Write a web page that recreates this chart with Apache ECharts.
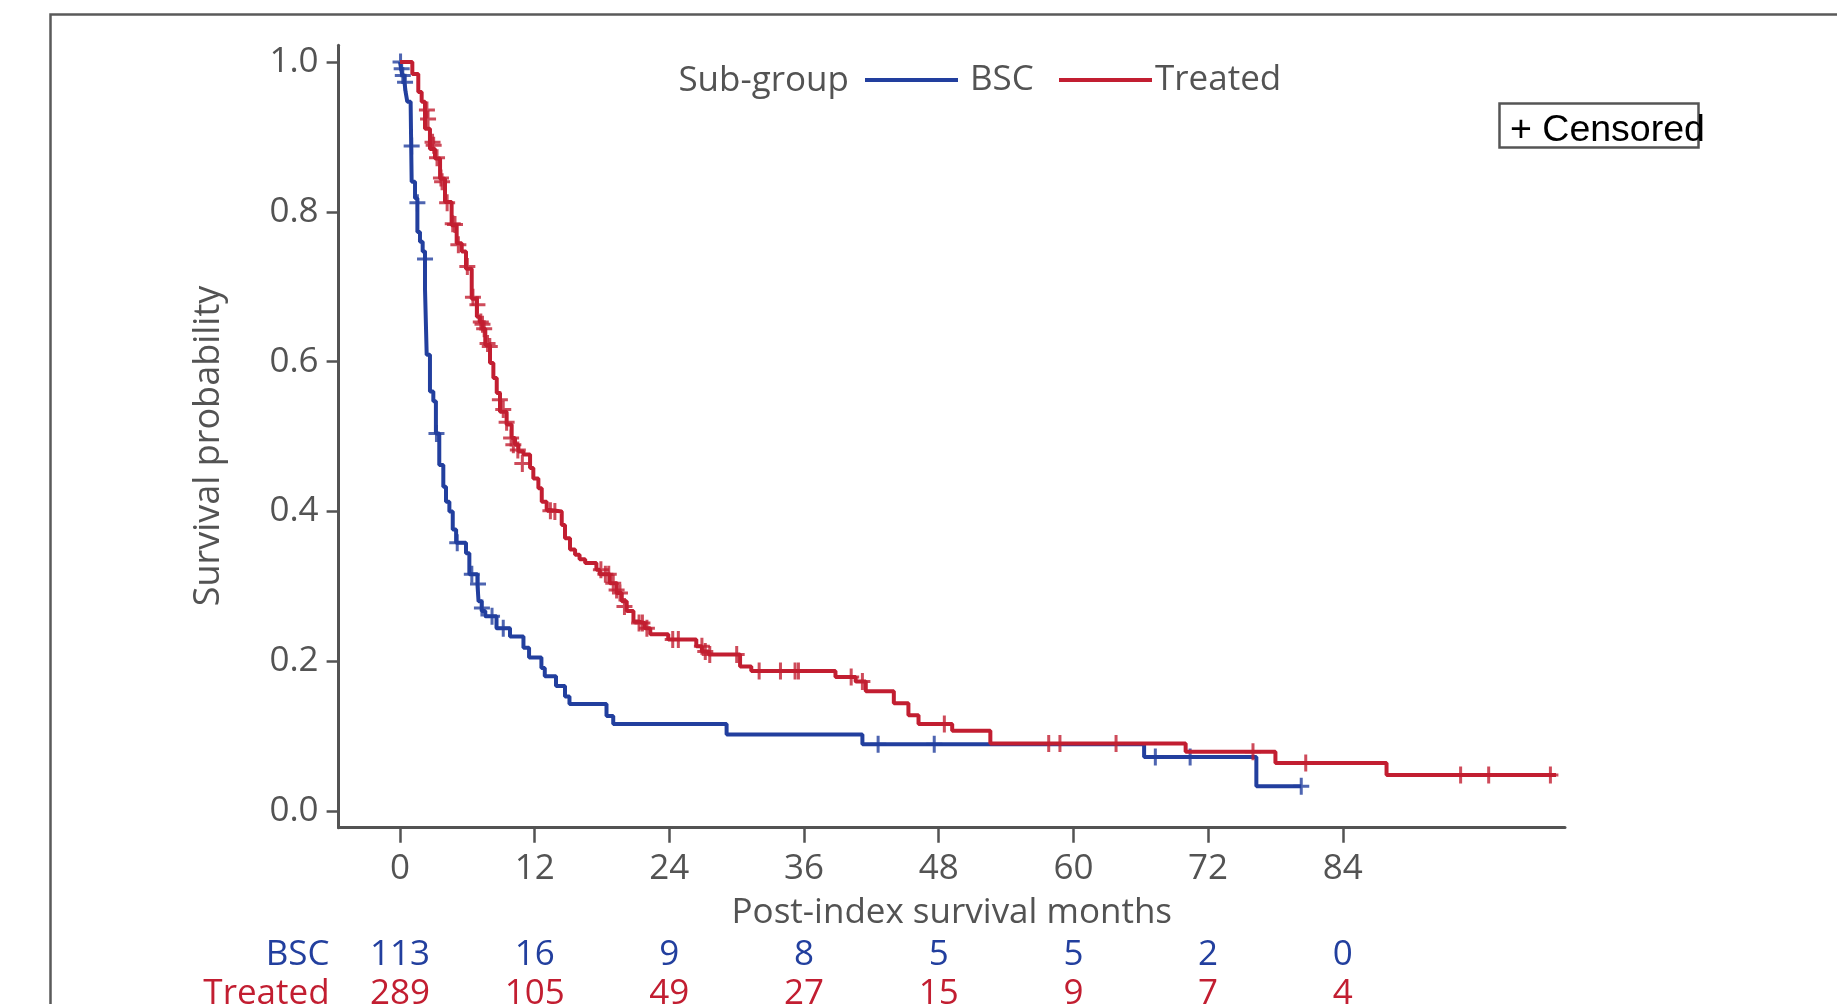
<!DOCTYPE html>
<html><head><meta charset="utf-8">
<script src="https://cdn.jsdelivr.net/npm/echarts@6/dist/echarts.min.js"></script>
<style>html,body{margin:0;padding:0;background:#fff;overflow:hidden}#c{width:1837px;height:1004px}</style>
</head><body><div id="c"></div>
<script>
// ---- data ----
const bscSteps = [[0,1.0],[0.1,0.991],[0.2,0.982],[0.4,0.973],[0.5,0.96],[0.65,0.947],[0.95,0.943],[1.04,0.84],[1.34,0.818],[1.55,0.773],[1.78,0.76],[2.02,0.747],[2.23,0.696],[2.38,0.609],[2.67,0.56],[2.97,0.547],[3.2,0.504],[3.5,0.462],[3.86,0.433],[4.1,0.413],[4.4,0.4],[4.7,0.376],[5.0,0.358],[5.88,0.344],[6.18,0.316],[6.9,0.303],[7.0,0.28],[7.28,0.267],[7.6,0.26],[8.6,0.244],[9.8,0.233],[11.0,0.218],[11.5,0.205],[12.6,0.191],[12.9,0.18],[13.9,0.167],[14.7,0.153],[15.1,0.143],[18.4,0.127],[19.0,0.116],[29.1,0.102],[41.2,0.089],[66.3,0.072],[76.3,0.033],[80.3,0.033]];
const bscCensored = [[0.05,1.0],[0.15,0.991],[0.25,0.982],[0.45,0.973],[1.04,0.888],[1.55,0.812],[2.23,0.737],[3.25,0.504],[5.1,0.358],[6.4,0.316],[6.95,0.303],[7.3,0.271],[8.2,0.26],[9.2,0.244],[42.6,0.089],[47.6,0.089],[67.3,0.072],[70.4,0.072],[80.3,0.033]];
const treatedSteps = [[0,1.0],[1.1,0.984],[1.63,0.96],[1.93,0.947],[2.23,0.911],[2.67,0.884],[3.12,0.871],[3.57,0.844],[4.01,0.813],[4.6,0.782],[5.05,0.758],[5.5,0.747],[5.88,0.724],[6.39,0.684],[6.85,0.66],[7.1,0.653],[7.35,0.644],[7.6,0.622],[8.02,0.598],[8.32,0.578],[8.62,0.558],[8.91,0.533],[9.5,0.516],[9.95,0.498],[10.25,0.489],[10.55,0.48],[11.0,0.476],[11.59,0.458],[11.88,0.444],[12.33,0.431],[12.63,0.413],[13.07,0.402],[13.37,0.4],[14.41,0.382],[14.7,0.364],[15.15,0.349],[15.6,0.342],[16.0,0.336],[16.5,0.331],[17.5,0.322],[17.8,0.316],[18.7,0.304],[19.3,0.291],[19.76,0.28],[20.2,0.267],[20.8,0.253],[21.2,0.251],[21.8,0.244],[22.3,0.236],[23.9,0.229],[26.4,0.22],[26.9,0.213],[27.5,0.209],[30.3,0.193],[31.3,0.187],[38.8,0.179],[40.6,0.173],[41.5,0.16],[44.0,0.144],[45.3,0.128],[46.2,0.116],[49.2,0.107],[52.6,0.09],[70.0,0.079],[78.0,0.064],[87.9,0.048],[103.0,0.048]];
const treatedCensored = [[2.4,0.936],[2.5,0.924],[2.9,0.893],[3.0,0.889],[3.3,0.872],[3.65,0.845],[3.75,0.84],[4.2,0.812],[4.7,0.784],[4.9,0.783],[5.2,0.756],[6.0,0.727],[6.5,0.686],[6.9,0.676],[7.2,0.653],[7.35,0.65],[7.5,0.644],[7.8,0.624],[8.0,0.62],[8.9,0.549],[9.2,0.536],[9.5,0.519],[9.9,0.498],[10.1,0.489],[10.5,0.482],[10.9,0.464],[13.4,0.401],[13.8,0.4],[17.9,0.322],[18.3,0.316],[18.6,0.316],[19.0,0.304],[19.3,0.295],[19.6,0.291],[20.0,0.273],[21.3,0.251],[21.6,0.251],[22.0,0.244],[24.3,0.229],[24.8,0.229],[26.9,0.22],[27.2,0.213],[27.6,0.209],[30.0,0.209],[32.0,0.187],[33.9,0.187],[35.2,0.187],[35.5,0.187],[40.2,0.179],[41.2,0.173],[48.5,0.116],[57.8,0.09],[58.8,0.09],[63.8,0.09],[76.0,0.079],[80.7,0.064],[94.5,0.048],[97.0,0.048],[102.5,0.048]];
const xTicks = [0,12,24,36,48,60,72,84];
const yTicks = [0,0.2,0.4,0.6,0.8,1.0];
const riskBSC = [113,16,9,8,5,5,2,0];
const riskTreated = [289,105,49,27,15,9,7,4];
const groupNames = ['BSC','Treated'];

// ---- styling ----
const BLUE = '#223f9e', RED = '#c21e31', GREY = '#535353';
const FONT = '"Open Sans", "Noto Sans", sans-serif';
const FS = 35;
const XMIN = -5.47, XMAX = 103.8, YMIN = -0.0223, YMAX = 1.0223;
const plusPath = 'path://M6.5,0H9.5V17H6.5Z M0,7H16V10H0Z';

const chart = echarts.init(document.getElementById('c'), null, {renderer:'canvas'});
function riskAxis(name, counts, color, offset){
  return {
    type:'value', gridIndex:0, position:'bottom', offset:offset, min:XMIN, max:XMAX,
    axisLine:{show:false, onZero:false}, axisTick:{show:false}, splitLine:{show:false},
    axisLabel:{customValues:xTicks, margin:0, verticalAlign:'middle', color:color, fontSize:FS, fontFamily:FONT,
      formatter:function(v){ const i = xTicks.indexOf(Math.round(v)); return i>=0 ? String(counts[i]) : ''; }},
    name:name, nameLocation:'start', nameGap:9,
    nameTextStyle:{color:color, fontSize:FS, fontFamily:FONT, align:'right', verticalAlign:'middle'}
  };
}
const option = {
  animation:false,
  backgroundColor:'#ffffff',
  grid:{left:338.6, right:272, top:45.3, bottom:176.3, containLabel:false, outerBoundsMode:'none'},
  xAxis:[{
    type:'value', min:XMIN, max:XMAX,
    axisLine:{show:true, onZero:false, lineStyle:{color:GREY, width:3}},
    axisTick:{show:true, customValues:xTicks, length:15, lineStyle:{color:GREY, width:2.5}},
    axisLabel:{customValues:xTicks, margin:24, color:GREY, fontSize:FS, fontFamily:FONT},
    splitLine:{show:false},
    name:'Post-index survival months', nameLocation:'middle', nameGap:68,
    nameTextStyle:{color:GREY, fontSize:FS, fontFamily:FONT}
  },
  riskAxis(groupNames[0], riskBSC, BLUE, 127.3),
  riskAxis(groupNames[1], riskTreated, RED, 166.3)
  ],
  yAxis:{
    type:'value', min:YMIN, max:YMAX,
    axisLine:{show:true, onZero:false, lineStyle:{color:GREY, width:3}},
    axisTick:{show:true, customValues:yTicks, length:12, lineStyle:{color:GREY, width:2.5}},
    axisLabel:{customValues:yTicks, margin:20, color:GREY, fontSize:FS, fontFamily:FONT, formatter:v=>v.toFixed(1)},
    splitLine:{show:false},
    name:'Survival probability', nameLocation:'middle', nameGap:112, nameRotate:90,
    nameTextStyle:{color:GREY, fontSize:36, fontFamily:FONT, padding:[0,19,0,0]}
  },
  legend:[
    {data:[groupNames[0]], left:865, top:62, padding:0, icon:'rect', itemWidth:93, itemHeight:4,
     textStyle:{color:GREY, fontSize:FS, fontFamily:FONT, lineHeight:36, padding:[0,0,0,7]}},
    {data:[groupNames[1]], left:1059, top:62, padding:0, icon:'rect', itemWidth:93, itemHeight:4,
     textStyle:{color:GREY, fontSize:FS, fontFamily:FONT, lineHeight:36, padding:[0,0,0,-2]}}
  ],
  graphic:[
    {type:'polyline', silent:true, shape:{points:[[50.5,1020],[50.5,14.5],[1850,14.5]]}, style:{stroke:'#5a5a5a', lineWidth:2.5, fill:null}},
    {type:'text', x:849, y:81, style:{text:'Sub-group', fill:GREY, font:FS+'px '+FONT, textAlign:'right', textVerticalAlign:'middle'}},
    {type:'rect', shape:{x:1499.5, y:103.5, width:199, height:44}, style:{fill:'none', stroke:'#555', lineWidth:2.5}},
    {type:'text', x:1510, y:131, style:{text:'+ Censored', fill:'#000', font:'37.5px "Liberation Sans", Arial, sans-serif', textAlign:'left', textVerticalAlign:'middle'}}
  ],
  series:[
    {name:groupNames[0], type:'line', step:'end', data:bscSteps, showSymbol:false, symbol:'none', color:BLUE,
     lineStyle:{color:BLUE, width:4}, z:2},
    {name:'BSC censored', type:'scatter', data:bscCensored, symbol:plusPath, symbolSize:[16,17], itemStyle:{color:BLUE}, z:3},
    {name:groupNames[1], type:'line', step:'end', data:treatedSteps, showSymbol:false, symbol:'none', color:RED,
     lineStyle:{color:RED, width:4}, z:4},
    {name:'Treated censored', type:'scatter', data:treatedCensored, symbol:plusPath, symbolSize:[16,17], itemStyle:{color:RED}, z:5}
  ]
};
chart.setOption(option);
</script></body></html>
